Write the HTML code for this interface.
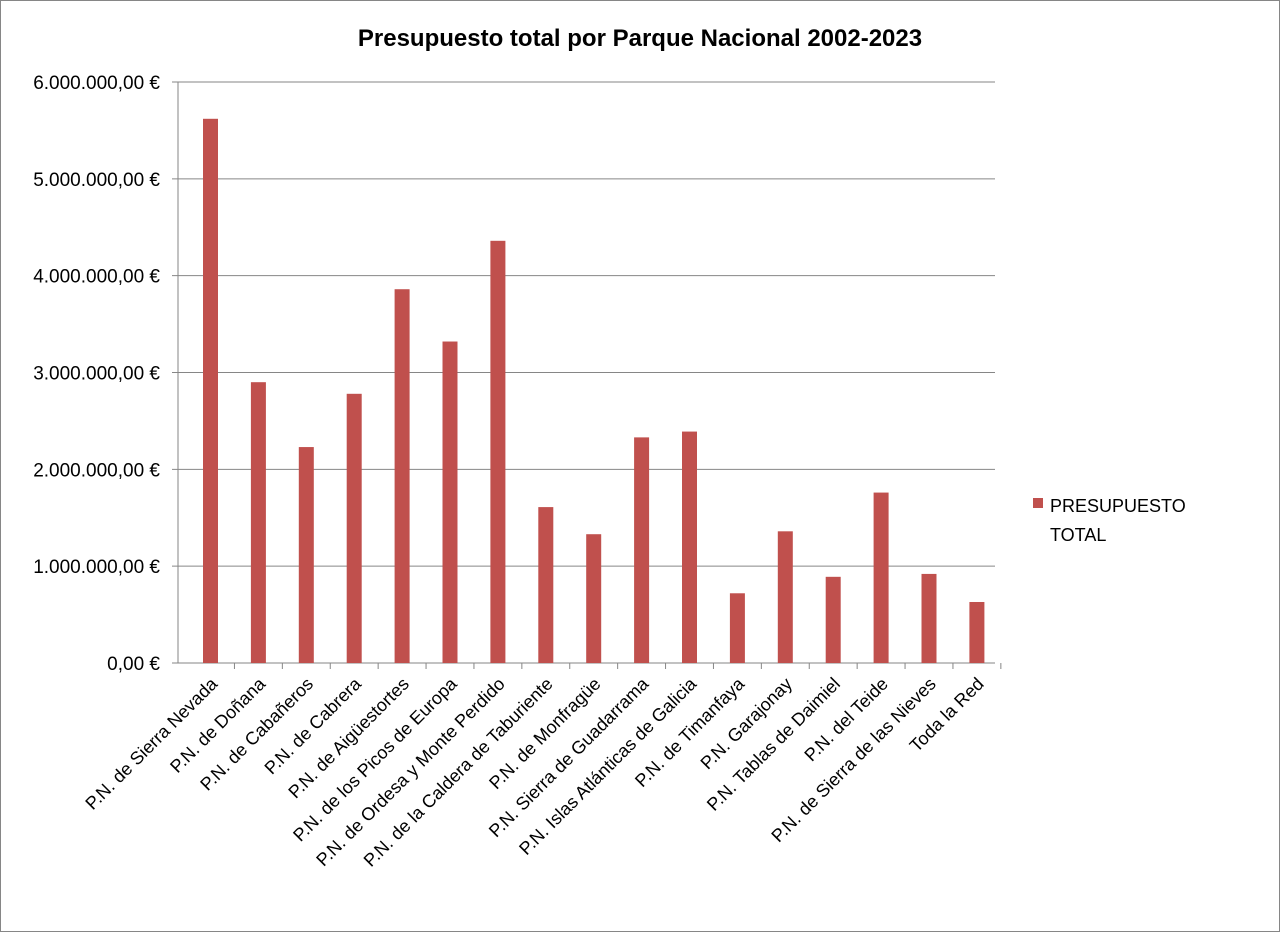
<!DOCTYPE html>
<html><head><meta charset="utf-8"><style>
html,body{margin:0;padding:0;background:#fff;}
svg{display:block;font-family:"Liberation Sans",sans-serif;}
</style></head><body>
<svg id="chart" width="1280" height="932" viewBox="0 0 1280 932">
<rect x="0.5" y="0.5" width="1279" height="931" fill="#fff" stroke="#868686"/>
<text x="640" y="46" text-anchor="middle" font-size="24" font-weight="bold" fill="#000">Presupuesto total por Parque Nacional 2002-2023</text>
<g id="grid"></g><g id="bars"></g><g id="xlabels"></g><g id="ylabels"></g>
<g>
<rect x="1033" y="498" width="10" height="10" fill="#C0504D"/>
<text x="1050" y="512" font-size="18" fill="#000">PRESUPUESTO</text>
<text x="1050" y="541" font-size="18" fill="#000">TOTAL</text>
</g>
</svg>
<script>
const categories=["P.N. de Sierra Nevada","P.N. de Doñana","P.N. de Cabañeros","P.N. de Cabrera","P.N. de Aigüestortes","P.N. de los Picos de Europa","P.N. de Ordesa y Monte Perdido","P.N. de la Caldera de Taburiente","P.N. de Monfragüe","P.N. Sierra de Guadarrama","P.N. Islas Atlánticas de Galicia","P.N. de Timanfaya","P.N. Garajonay","P.N. Tablas de Daimiel","P.N. del Teide","P.N. de Sierra de las Nieves","Toda la Red"];
const values=[5620000,2900000,2230000,2780000,3860000,3320000,4360000,1610000,1330000,2330000,2390000,720000,1360000,890000,1760000,920000,630000];
const yTicks=[0,1000000,2000000,3000000,4000000,5000000,6000000];
const yTickLabels=["0,00 €","1.000.000,00 €","2.000.000,00 €","3.000.000,00 €","4.000.000,00 €","5.000.000,00 €","6.000.000,00 €"];
const NS="http://www.w3.org/2000/svg";
const X0=178,X1=995,Y0=663,Y1=82,YMAX=6000000;
const FIRST=210.5,step=47.9;
const y=v=>Y0-(v/YMAX)*(Y0-Y1);
const xc=i=>FIRST+step*i;
function mk(t,a,p){const e=document.createElementNS(NS,t);for(const k in a)e.setAttribute(k,a[k]);p.appendChild(e);return e;}
const grid=document.getElementById('grid'),bars=document.getElementById('bars'),xl=document.getElementById('xlabels'),yl=document.getElementById('ylabels');
yTicks.forEach((t,i)=>{
 const l=mk('line',{x1:X0-6,x2:X1,y1:y(t),y2:y(t),stroke:'#868686','stroke-width':1},grid);
 
 
 const tx=mk('text',{x:160,y:y(t)+7,'text-anchor':'end','font-size':19,fill:'#000'},yl);
 tx.textContent=yTickLabels[i];
 
 
});
const ax=mk('line',{x1:X0,x2:X0,y1:Y1,y2:Y0,stroke:'#868686'},grid);


for(let i=0;i<categories.length;i++){
 const tx=xc(i)+step/2;
 const tk=mk('line',{x1:tx,x2:tx,y1:Y0,y2:Y0+6,stroke:'#868686'},grid);
 
 
}
categories.forEach((c,i)=>{
 const bw=15;
 const r=mk('rect',{x:xc(i)-bw/2,y:y(values[i]),width:bw,height:Y0-y(values[i]),fill:'#C0504D'},bars);
 
 
 const cx=xc(i)+8,cy=Y0+22;
 const t=mk('text',{x:cx,y:cy,'text-anchor':'end','font-size':18,fill:'#000',transform:`rotate(-45 ${cx} ${cy})`},xl);
 t.textContent=c;
 
 
});
</script>
</body></html>
